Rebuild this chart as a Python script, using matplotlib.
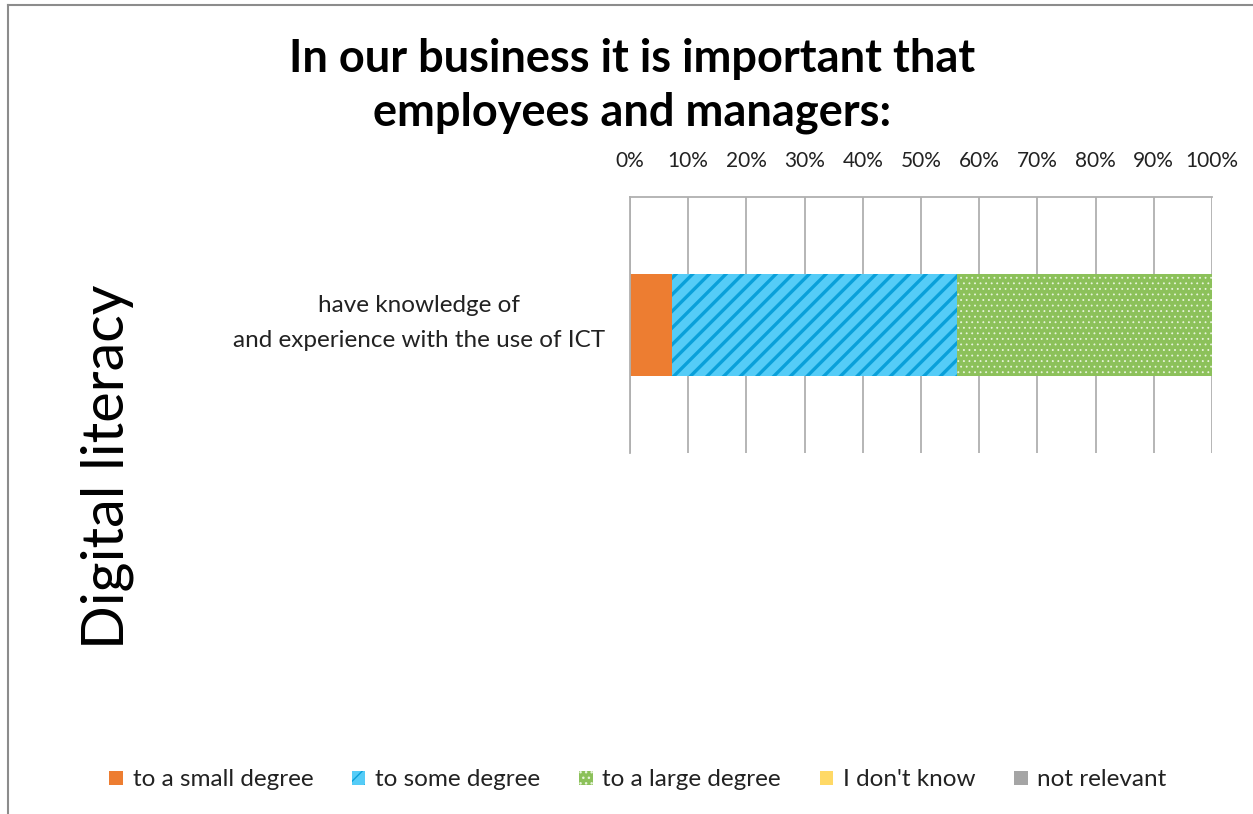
import matplotlib
matplotlib.use("Agg")
import matplotlib.pyplot as plt
from matplotlib.lines import Line2D
from matplotlib.ticker import PercentFormatter

plt.rcParams['font.family'] = ['Lato', 'DejaVu Sans']

# Survey data
category = "have knowledge of\nand experience with the use of ICT"
series_names = ["to a small degree", "to some degree", "to a large degree",
                "I don't know", "not relevant"]
series_values = [7.2, 49.0, 43.8, 0.0, 0.0]
x_ticks = [0, 10, 20, 30, 40, 50, 60, 70, 80, 90, 100]

# Styles per series: face colour, hatch colour, hatch pattern, hatch width
styles = [
    ("#ED7D31", "#ED7D31", None, 1.0),
    ("#55CCF7", "#0AA0DA", "//", 2.4),
    ("#8CC15A", "#E8F4DC", "...", 0.6),
    ("#FFD966", "#FFD966", None, 1.0),
    ("#A5A5A5", "#A5A5A5", None, 1.0),
]

W, H = 1253, 814
fig = plt.figure(figsize=(W / 100, H / 100), dpi=100)

ax = fig.add_axes([630 / W, 1 - 453 / H, 582 / W, 256 / H])

left = 0.0
handles = []
for name, val, (fc, hc, hatch, hlw) in zip(series_names, series_values, styles):
    with plt.rc_context({'hatch.linewidth': hlw}):
        bars = ax.barh([0], [val], left=[left], height=0.4, color=fc,
                       edgecolor=hc, linewidth=0, hatch=hatch, label=name,
                       zorder=3)
    handles.append(bars)
    left += val

ax.set_xlim(0, 100)
ax.set_ylim(-0.5, 0.5)
ax.set_xticks(x_ticks)
ax.xaxis.set_major_formatter(PercentFormatter(decimals=0))
ax.xaxis.tick_top()
ax.tick_params(axis='x', length=0, pad=19, labelsize=15, colors='#222222')
ax.set_yticks([0])
ax.set_yticklabels([""])
ax.tick_params(axis='y', length=0)

# Category label, centred slightly above the bar centre
ax.text(-25 / 582 * 100, 0.008, category, ha='right', va='center',
        multialignment='center', linespacing=1.85, fontsize=17.5,
        color='#222222', clip_on=False)

ax.grid(axis='x', color='#B0B0B0', linewidth=1.3, zorder=0)
for side in ('right', 'bottom'):
    ax.spines[side].set_visible(False)
ax.spines['left'].set_color('#B0B0B0')
ax.spines['top'].set_color('#B0B0B0')
ax.spines['left'].set_linewidth(1.3)
ax.spines['top'].set_linewidth(1.3)
ax.spines['left'].set_zorder(4)

fig.text(632 / W, 1 - 86 / H,
         "In our business it is important that\nemployees and managers:",
         ha='center', va='center', fontsize=32.5, fontweight='bold',
         color='black', linespacing=1.32)

fig.text(107 / W, 1 - 467 / H, "Digital literacy", rotation=90,
         ha='center', va='center', fontsize=41.5, color='black')

fig.legend(handles=handles, loc='center', bbox_to_anchor=(638 / W, 1 - 780 / H),
           ncol=5, frameon=False, fontsize=17.5, handlelength=0.55,
           handleheight=0.55, handletextpad=0.4, columnspacing=1.6,
           labelcolor='#222222')

# Outer chart frame (left and top edges)
fig.add_artist(Line2D([8 / W, 8 / W], [0, 1 - 5 / H], transform=fig.transFigure,
                      color='#8C8C8C', linewidth=1.5))
fig.add_artist(Line2D([8 / W, 1], [1 - 5 / H, 1 - 5 / H], transform=fig.transFigure,
                      color='#8C8C8C', linewidth=1.5))

fig.savefig("out.png", dpi=100)
